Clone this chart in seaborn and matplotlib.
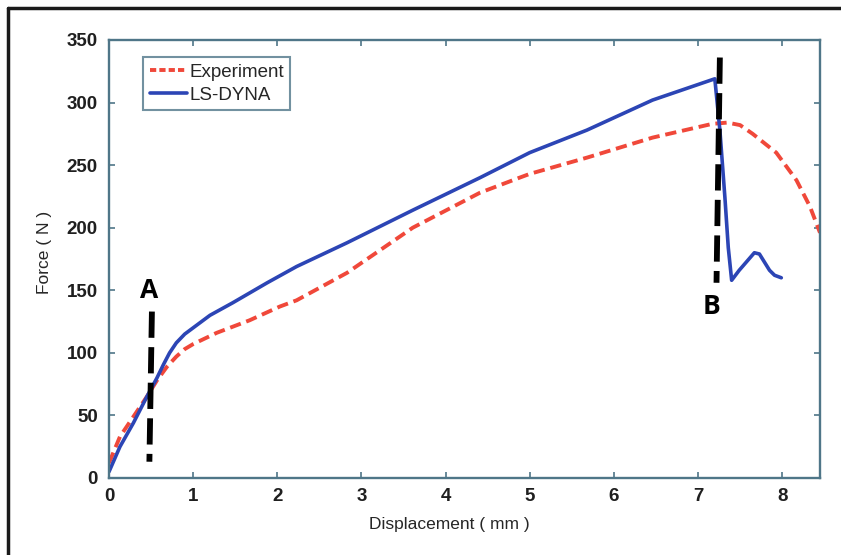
import matplotlib
matplotlib.use("Agg")
import matplotlib.pyplot as plt
import seaborn as sns
import pandas as pd
from matplotlib.lines import Line2D

# Experiment curve (displacement mm, force N)
exp_disp = [0, 0.13, 0.29, 0.45, 0.57, 0.69, 0.8, 0.9, 1.0, 1.28, 1.67, 2.03, 2.23,
            2.83, 3.22, 3.61, 4.01, 4.41, 4.88, 5.0, 5.68, 6.46, 7.17, 7.35, 7.5,
            7.65, 7.93, 8.17, 8.33, 8.45]
exp_force = [12, 33, 49, 65, 78, 89, 97, 103, 107, 116, 126, 137, 142,
             164, 182, 200, 214, 228, 240, 243, 256, 272, 283, 284, 282,
             275, 260, 238, 217, 196]

# LS-DYNA simulation curve
dyna_disp = [0, 0.13, 0.29, 0.45, 0.57, 0.65, 0.72, 0.8, 0.9, 1.0, 1.2, 1.47, 1.88,
             2.23, 2.83, 3.61, 4.41, 5.0, 5.68, 6.46, 7.2, 7.26, 7.32, 7.36, 7.40,
             7.49, 7.67, 7.73, 7.85, 7.91, 7.99]
dyna_force = [5, 25, 44, 65, 80, 91, 100, 108, 115, 120, 130, 140, 156,
              169, 188, 214, 240, 260, 278, 302, 319, 278, 224, 184, 158,
              166, 180, 179, 166, 162, 160]

# marker lines A and B (x at top/bottom, y range)
mark_labels = ["A", "B"]
mark_x = [(0.51, 0.48), (7.26, 7.22)]
mark_y = [(133, 13), (336, 156)]
label_pos = [(0.48, 150), (7.16, 137)]

x_ticks = list(range(0, 9))
y_ticks = list(range(0, 351, 50))

spine_col = "#4f7688"
red = "#f0483a"
blue = "#2c45b5"

sns.set_style("ticks")
plt.rcParams["font.family"] = ["Liberation Sans", "DejaVu Sans"]

exp_df = pd.DataFrame({"disp": exp_disp, "force": exp_force})
dyna_df = pd.DataFrame({"disp": dyna_disp, "force": dyna_force})

fig = plt.figure(figsize=(8.41, 5.55), dpi=100)
ax = fig.add_axes([109 / 841, 1 - 478 / 555, 711 / 841, 438 / 555])

sns.lineplot(data=exp_df, x="disp", y="force", ax=ax, sort=False, color=red,
             lw=2.8, label="Experiment")
ax.lines[-1].set_dashes((2.9, 1.5))
sns.lineplot(data=dyna_df, x="disp", y="force", ax=ax, sort=False, color=blue,
             lw=2.6, label="LS-DYNA")

for lab, xs, ys, (lx, ly) in zip(mark_labels, mark_x, mark_y, label_pos):
    ax.plot(xs, ys, color="black", lw=4.2, dashes=(4.5, 1.6), solid_capstyle="butt")
    ax.text(lx, ly, lab, fontsize=19, fontweight="bold", family=["Open Sans", "DejaVu Sans"],
            ha="center", va="center", color="black")

ax.set_xlim(0, 8.45)
ax.set_ylim(0, 350)
ax.set_xticks(x_ticks)
ax.set_yticks(y_ticks)
ax.tick_params(direction="in", length=4, width=1.2, color=spine_col, labelsize=13.5,
               top=True, right=True, labelcolor="#1f1f1f")
ax.tick_params(axis="x", pad=7)
ax.tick_params(axis="y", pad=8)
for lbl in ax.get_xticklabels() + ax.get_yticklabels():
    lbl.set_fontweight("bold")
for s in ax.spines.values():
    s.set_visible(True)
    s.set_color(spine_col)
    s.set_linewidth(1.7)

ax.set_xlabel("Displacement ( mm )", fontsize=12.5)
ax.set_ylabel("Force ( N )", fontsize=12.5)
ax.xaxis.set_label_coords(0.478, -0.09)
ax.yaxis.set_label_coords(-0.08, 0.516)

handles = [Line2D([], [], color=red, lw=2.8, dashes=(1.6, 0.8)),
           Line2D([], [], color=blue, lw=2.6)]
leg = ax.legend(handles, ["Experiment", "LS-DYNA"], loc="upper left",
                bbox_to_anchor=(0.048, 0.961), fontsize=13.5, frameon=True,
                fancybox=False, handlelength=2.0, handletextpad=0.1,
                borderpad=0.35, labelspacing=0.3, borderaxespad=0)
leg.get_frame().set_edgecolor(spine_col)
leg.get_frame().set_linewidth(1.5)

# outer frame on top and left of the image
fig.add_artist(Line2D([8 / 841, 1], [1 - 8 / 555, 1 - 8 / 555], color="#1a1a1a", lw=2.5,
                      transform=fig.transFigure))
fig.add_artist(Line2D([8 / 841, 8 / 841], [0, 1 - 8 / 555], color="#1a1a1a", lw=2.5,
                      transform=fig.transFigure))

fig.savefig("out.png", dpi=100)
